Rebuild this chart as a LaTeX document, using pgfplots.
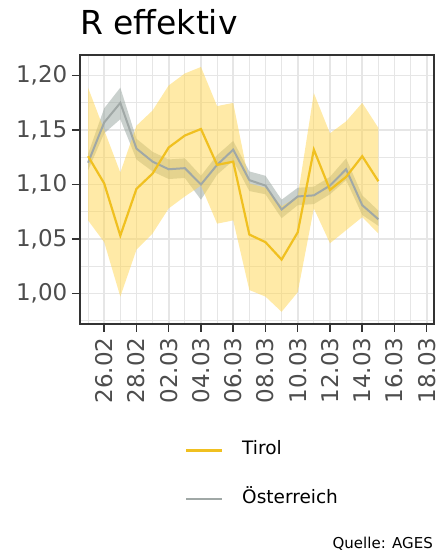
\documentclass[border=0pt]{standalone}
\usepackage{fontspec}
\setmainfont{DejaVu Sans}
\usepackage{pgfplots}
\usepackage{pgfplotstable}
\pgfplotsset{compat=1.18}
\usepgfplotslibrary{fillbetween}
\definecolor{tirol}{RGB}{240,192,32}
\definecolor{tband}{RGB}{255,213,79}
\definecolor{oline}{RGB}{160,168,166}
\definecolor{oband}{RGB}{150,163,158}
\definecolor{gridc}{RGB}{230,230,230}
\definecolor{border}{RGB}{51,51,51}
\definecolor{ticklab}{RGB}{77,77,77}
\pgfplotstableread{
i T Tlo Thi O Olo Ohi
-1 1.126 1.067 1.189 1.120 1.113 1.128
0 1.101 1.047 1.150 1.157 1.147 1.170
1 1.053 0.997 1.111 1.175 1.160 1.189
2 1.096 1.040 1.154 1.133 1.123 1.142
3 1.110 1.055 1.168 1.121 1.112 1.130
4 1.134 1.078 1.191 1.114 1.105 1.123
5 1.145 1.089 1.202 1.115 1.106 1.124
6 1.151 1.099 1.208 1.100 1.086 1.108
7 1.118 1.064 1.172 1.118 1.109 1.127
8 1.121 1.067 1.175 1.132 1.122 1.140
9 1.054 1.003 1.101 1.104 1.094 1.112
10 1.047 0.997 1.097 1.099 1.091 1.108
11 1.031 0.983 1.080 1.077 1.069 1.086
12 1.056 1.001 1.089 1.089 1.081 1.097
13 1.132 1.078 1.184 1.090 1.082 1.098
14 1.095 1.046 1.147 1.099 1.091 1.107
15 1.107 1.058 1.158 1.114 1.104 1.124
16 1.126 1.070 1.175 1.081 1.072 1.090
17 1.103 1.055 1.152 1.068 1.062 1.076
}\data
\begin{document}
\begin{tikzpicture}
\begin{axis}[
  at={(80pt,233pt)}, anchor=south west,
  scale only axis, width=354pt, height=269pt,
  xmin=-1.5, xmax=20.45, ymin=0.9718, ymax=1.219,
  xtick={0,2,...,20},
  xticklabels={26.02,28.02,02.03,04.03,06.03,08.03,10.03,12.03,14.03,16.03,18.03},
  minor xtick={-1,1,...,19},
  ytick={1,1.05,1.1,1.15,1.2},
  minor ytick={0.975,1.025,1.075,1.125,1.175},
  grid=both,
  major grid style={color=gridc, line width=1.6pt},
  minor grid style={color=gridc, line width=0.9pt},
  axis line style={color=border, line width=1.2pt},
  tick align=outside, xtick pos=bottom, ytick pos=left,
  major tick length=8pt, minor tick length=0pt,
  tick style={color=border, line width=1.5pt},
  ticklabel style={font=\fontsize{23}{27}\selectfont, color=ticklab, inner sep=0pt},
  xticklabel style={rotate=90, anchor=east},
  yticklabel style={anchor=east},
  xticklabel shift=5.5pt, yticklabel shift=4.5pt,
  yticklabel={\pgfmathprintnumber[use comma, fixed, fixed zerofill, precision=2, assume math mode=true]{\tick}},
  title={R effektiv},
  title style={at={(0,1)}, anchor=base west, yshift=14.7pt, font=\fontsize{33}{38}\selectfont, inner sep=0pt},
  legend style={at={(0.2966,-0.560)}, anchor=west, draw=none, fill=none, inner sep=0pt,
    font=\fontsize{18.5}{22}\selectfont, row sep=31.7pt,
    nodes={inner sep=0pt, text height=13pt, text depth=4pt},
    /tikz/every odd column/.append style={column sep=18.5pt}},
  legend image code/.code={\draw[#1] (0pt,0pt) -- (36pt,0pt);},
  legend cell align=left,
]
\addplot[name path=ohi, draw=none, forget plot] table[x=i,y=Ohi]{\data};
\addplot[name path=olo, draw=none, forget plot] table[x=i,y=Olo]{\data};
\addplot[fill=oband, fill opacity=0.5, draw=none, forget plot] fill between[of=ohi and olo];
\addplot[oline, line width=2pt, forget plot] table[x=i,y=O]{\data};
\addplot[name path=thi, draw=none, forget plot] table[x=i,y=Thi]{\data};
\addplot[name path=tlo, draw=none, forget plot] table[x=i,y=Tlo]{\data};
\addplot[fill=tband, fill opacity=0.5, draw=none, forget plot] fill between[of=thi and tlo];
\addplot[tirol, line width=2.2pt, forget plot] table[x=i,y=T]{\data};
\addlegendimage{tirol, line width=2.5pt}
\addlegendentry{Tirol}
\addlegendimage{oline, line width=2.5pt}
\addlegendentry{Österreich}
\end{axis}
\node[anchor=base east, font=\fontsize{15}{18}\selectfont, inner sep=0pt] at (433pt,9pt) {Quelle: AGES};
\pgfresetboundingbox
\useasboundingbox (0,0) rectangle (438pt,557pt);
\end{tikzpicture}
\end{document}
